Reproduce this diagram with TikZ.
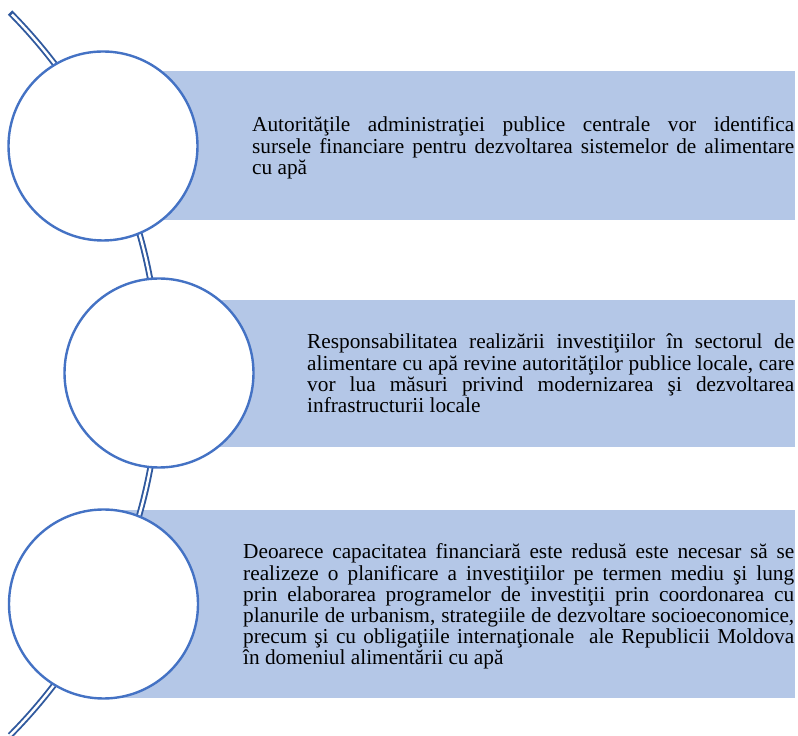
\documentclass[tikz,border=0pt]{standalone}
\usepackage{fontspec}
\setmainfont{Liberation Serif}
\definecolor{boxfill}{HTML}{B4C7E7}
\definecolor{ringblue}{HTML}{4472C4}
\definecolor{arcblue}{HTML}{30599E}
\tolerance=10000
\hyphenpenalty=10000
\exhyphenpenalty=10000
\hbadness=10000
\begin{document}
\begin{tikzpicture}[x=1pt,y=1pt,
  bar/.style={fill=boxfill, draw=none, inner sep=0, outer sep=0, anchor=south west},
  ring/.style={circle, draw=ringblue, line width=2.4pt, fill=white, minimum size=189pt, inner sep=0},
  spineout/.style={draw=arcblue, line width=6.2pt},
  spinein/.style={draw=white, line width=2.4pt},
  txt/.style={anchor=base west, inner sep=0, align=justify, font=\fontsize{21.3}{21.2}\selectfont}
]
\useasboundingbox (0,0) rectangle (798,736);
% bars
\node[bar, minimum width=692pt, minimum height=148.5pt] (b1) at (103,516) {};
\node[bar, minimum width=636pt, minimum height=147pt] (b2) at (159,289) {};
\node[bar, minimum width=692pt, minimum height=188pt] (b3) at (103,38) {};
% spine arc
\coordinate (arcC) at (-354,362);
\draw[spineout] ([shift={(44.8:513)}]arcC) arc[start angle=44.8, end angle=-44.8, radius=513];
\draw[spinein] ([shift={(44.5:513)}]arcC) arc[start angle=44.5, end angle=-44.8, radius=513];
% circles
\node[ring] (c1) at (103,590) {};
\node[ring] (c2) at (159,363) {};
\node[ring] (c3) at (103.5,132) {};
% texts
\node[txt, text width=542pt] (t1) at (252,604) {Autorităţile administraţiei publice centrale vor identifica\linebreak
sursele financiare pentru dezvoltarea sistemelor de alimentare\linebreak
cu apă};
\node[txt, text width=487pt] (t2) at (307,387) {Responsabilitatea realizării investiţiilor în sectorul de\linebreak
alimentare cu apă revine autorităţilor publice locale, care\linebreak
vor lua măsuri privind modernizarea şi dezvoltarea\linebreak
infrastructurii locale};
\node[txt, text width=551pt] (t3) at (243,177) {Deoarece capacitatea financiară este redusă este necesar să se\linebreak
realizeze o planificare a investiţiilor pe termen mediu şi lung\linebreak
prin elaborarea programelor de investiţii prin coordonarea cu\linebreak
planurile de urbanism, strategiile de dezvoltare socioeconomice,\linebreak
precum şi cu obligaţiile internaţionale~ ale Republicii Moldova\linebreak
în domeniul alimentării cu apă};
\end{tikzpicture}
\end{document}
